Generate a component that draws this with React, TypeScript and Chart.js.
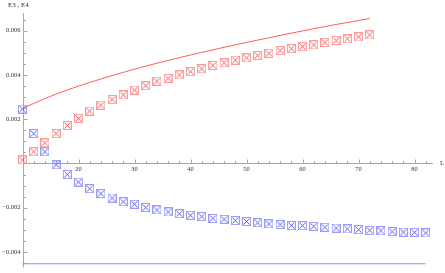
import React, { useEffect, useRef } from "react";
import { Chart, registerables } from "chart.js";
Chart.register(...registerables);

const redL = [10,12,14,16,18,20,22,24,26,28,30,32,34,36,38,40,42,44,46,48,50,52,54,56,58,60,62,64,66,68,70,72];
const redE3 = [0.00016,0.00053,0.00093,0.00135,0.00172,0.00204,0.00237,0.00264,0.00289,0.0031,0.00332,0.00351,0.00372,0.00385,0.004,0.00415,0.00428,0.00443,0.00455,0.00467,0.00477,0.00488,0.00498,0.0051,0.00519,0.00528,0.00536,0.00547,0.00556,0.00563,0.00572,0.00581];
const blueL = [10,12,14,16,18,20,22,24,26,28,30,32,34,36,38,40,42,44,46,48,50,52,54,56,58,60,62,64,66,68,70,72,74,76,78,80,82];
const blueE4 = [0.00246,0.00135,0.00053,-0.00006,-0.0005,-0.00084,-0.00114,-0.00136,-0.00156,-0.00173,-0.00184,-0.00199,-0.0021,-0.00219,-0.00227,-0.00234,-0.0024,-0.00248,-0.00252,-0.00258,-0.00262,-0.00268,-0.00273,-0.00276,-0.0028,-0.00281,-0.00284,-0.00288,-0.00292,-0.00296,-0.00299,-0.00302,-0.00304,-0.00308,-0.0031,-0.00311,-0.00314];
const curveL = [10,14,18,22,26,30,34,38,42,46,50,54,58,62,66,70,72];
const curveE3 = [0.00249,0.00293,0.00332,0.00366,0.00397,0.00426,0.00453,0.00478,0.00502,0.00525,0.00547,0.00568,0.00589,0.00609,0.00628,0.00646,0.00655];
const hLineL = [10,82];
const hLineE4 = [-0.00453,-0.00453];
const xMajor = [20,30,40,50,60,70,80];
const yMajor = [-0.004,-0.002,0.002,0.004,0.006];
const yLabels = ["\u22120.004","\u22120.002","0.002","0.004","0.006"];

function makeMarker(light: string, dark: string) {
  const c = document.createElement("canvas");
  c.width = 9; c.height = 9;
  const g = c.getContext("2d")!;
  g.strokeStyle = light; g.lineWidth = 1;
  g.strokeRect(0.5, 0.5, 8, 8);
  g.strokeStyle = dark; g.lineWidth = 0.8;
  g.beginPath();
  g.moveTo(1.5, 1.5); g.lineTo(7.5, 7.5);
  g.moveTo(7.5, 1.5); g.lineTo(1.5, 7.5);
  g.stroke();
  g.fillStyle = dark;
  g.fillRect(4, 4, 1, 1);
  return c;
}

const axesPlugin = {
  id: "mmaAxes",
  beforeDatasetsDraw(chart: any) {
    const { ctx, scales } = chart;
    const xs = scales.x, ys = scales.y;
    const x0 = xs.getPixelForValue(10);
    const y0 = ys.getPixelForValue(0);
    ctx.save();
    ctx.strokeStyle = "#a8a8a8";
    ctx.lineWidth = 1;
    ctx.beginPath();
    ctx.moveTo(x0, Math.round(y0) + 0.5);
    ctx.lineTo(xs.getPixelForValue(83.3), Math.round(y0) + 0.5);
    ctx.moveTo(Math.round(x0) + 0.5, ys.getPixelForValue(0.0068));
    ctx.lineTo(Math.round(x0) + 0.5, ys.getPixelForValue(-0.0047));
    ctx.stroke();
    ctx.beginPath();
    for (let v = 12; v <= 82; v += 2) {
      const px = Math.round(xs.getPixelForValue(v)) + 0.5;
      const len = v % 10 === 0 ? 3.5 : 2;
      ctx.moveTo(px, Math.round(y0));
      ctx.lineTo(px, Math.round(y0) - len);
    }
    for (let k = -9; k <= 13; k++) {
      if (k === 0) continue;
      const v = k * 0.0005;
      const py = Math.round(ys.getPixelForValue(v)) + 0.5;
      const len = k % 4 === 0 ? 3.5 : 2;
      ctx.moveTo(Math.round(x0) + 1, py);
      ctx.lineTo(Math.round(x0) + 1 + len, py);
    }
    ctx.stroke();
    ctx.fillStyle = "#333";
    ctx.font = "6.5px 'Liberation Serif', serif";
    ctx.textAlign = "center";
    ctx.textBaseline = "top";
    xMajor.forEach((v) => {
      ctx.fillText(String(v), xs.getPixelForValue(v), y0 + 3);
    });
    ctx.textAlign = "right";
    ctx.textBaseline = "middle";
    yMajor.forEach((v, i) => {
      ctx.fillText(yLabels[i], x0 - 2, ys.getPixelForValue(v));
    });
    ctx.font = "7px 'Liberation Serif', serif";
    ctx.textAlign = "left";
    ctx.fillText("L", 440, y0);
    ctx.fillText("E3 , E4", 8, 5.5);
    ctx.restore();
  },
};

export default function App() {
  const ref = useRef<HTMLCanvasElement>(null);
  useEffect(() => {
    document.body.style.margin = "0";
    const redM = makeMarker("#ff9a9a", "#e83030");
    const blueM = makeMarker("#9a9aff", "#3030e8");
    const chart = new Chart(ref.current!, {
      type: "scatter",
      data: {
        datasets: [
          {
            data: hLineL.map((x, i) => ({ x, y: hLineE4[i] })),
            showLine: true, borderColor: "#8c8cff", borderWidth: 1.2, pointRadius: 0, clip: false,
          },
          {
            data: curveL.map((x, i) => ({ x, y: curveE3[i] })),
            showLine: true, borderColor: "#ff5a5a", borderWidth: 1, pointRadius: 0, tension: 0.4, clip: false,
          },
          {
            data: redL.map((x, i) => ({ x, y: redE3[i] })),
            pointStyle: redM as any, pointRadius: 4.5, clip: false,
          },
          {
            data: blueL.map((x, i) => ({ x, y: blueE4[i] })),
            pointStyle: blueM as any, pointRadius: 4.5, clip: false,
          },
        ],
      },
      options: {
        animation: false,
        responsive: false,
        layout: { padding: { left: 22.5, right: 12, top: 13, bottom: 1.25 } },
        plugins: { legend: { display: false }, tooltip: { enabled: false } },
        scales: {
          x: { type: "linear", min: 10, max: 83.3, display: false },
          y: { type: "linear", min: -0.0047, max: 0.0068, display: false },
        },
      },
      plugins: [axesPlugin],
    });
    return () => chart.destroy();
  }, []);
  return <canvas ref={ref} width={445} height={273} style={{ display: "block" }} />;
}
